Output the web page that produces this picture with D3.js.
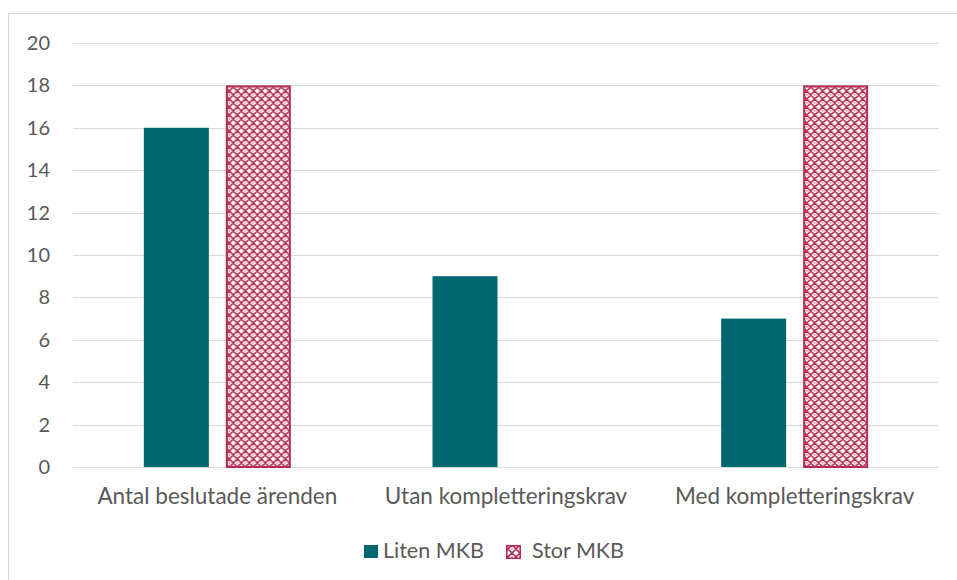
<!DOCTYPE html>
<html lang="sv">
<head>
    <meta charset="UTF-8">
    <script src="https://d3js.org/d3.v7.min.js"></script>
    <style>
        body { margin: 0; background: #fff; }
        text { font-family: Lato, "Open Sans", sans-serif; fill: #595959; }
    </style>
</head>
<body>
    <div id="chart"></div>

    <script>
        // data
        var categories = ["Antal beslutade ärenden", "Utan kompletteringskrav", "Med kompletteringskrav"];
        var seriesNames = ["Liten MKB", "Stor MKB"];
        var liten = [16, 9, 7];
        var stor = [18, 0, 18];
        var yTicks = [0, 2, 4, 6, 8, 10, 12, 14, 16, 18, 20];

        var W = 957, H = 580;
        var margin = { top: 43, right: 18, bottom: 113, left: 73 },
            width = W - margin.left - margin.right,
            height = H - margin.top - margin.bottom;

        var teal = "#006670", crimson = "#b42b52";

        var root = d3.select("#chart").append("svg")
            .attr("width", W)
            .attr("height", H);

        var defs = root.append("defs");
        var pat = defs.append("pattern")
            .attr("id", "dots")
            .attr("patternUnits", "userSpaceOnUse")
            .attr("width", 8)
            .attr("height", 8);
        pat.append("rect").attr("width", 8).attr("height", 8).attr("fill", "#fff");
        pat.append("path")
            .attr("d", "M0,4 L4,0 L8,4 L4,8 Z")
            .attr("fill", "none")
            .attr("stroke", crimson)
            .attr("stroke-width", 1.6);
        pat.append("rect").attr("x", 3).attr("y", 3).attr("width", 2).attr("height", 2).attr("fill", "#eab4c3");

        // outer chart border
        root.append("rect")
            .attr("x", 8.5).attr("y", 13.5)
            .attr("width", 1000).attr("height", 1000)
            .attr("fill", "none")
            .attr("stroke", "#d9d9d9");

        var svg = root.append("g")
            .attr("transform", "translate(" + margin.left + "," + margin.top + ")");

        var x0 = d3.scaleBand().domain(categories).range([0, width]);
        var y = d3.scaleLinear().domain([0, 20]).range([height, 0]);

        // gridlines
        svg.selectAll(".grid")
            .data(yTicks)
            .enter().append("line")
            .attr("x1", 0).attr("x2", width)
            .attr("y1", function (d) { return Math.round(y(d)) + 0.5; })
            .attr("y2", function (d) { return Math.round(y(d)) + 0.5; })
            .attr("stroke", "#d9d9d9")
            .attr("stroke-width", 1);

        // y tick labels
        svg.selectAll(".ylab")
            .data(yTicks)
            .enter().append("text")
            .attr("x", -23)
            .attr("y", function (d) { return y(d); })
            .attr("dy", "0.35em")
            .attr("text-anchor", "end")
            .style("font-size", "20px")
            .text(function (d) { return d; });

        var barW = 65, gap = 17;
        var x1 = d3.scaleOrdinal().domain(seriesNames)
            .range([-gap / 2 - barW, gap / 2]);

        var rows = categories.map(function (c, i) {
            return [
                { cat: c, s: "Liten MKB", v: liten[i] },
                { cat: c, s: "Stor MKB", v: stor[i] }
            ];
        });

        var groups = svg.selectAll(".grp")
            .data(rows)
            .enter().append("g")
            .attr("transform", function (d) {
                return "translate(" + (x0(d[0].cat) + x0.bandwidth() / 2) + ",0)";
            });

        groups.selectAll("rect")
            .data(function (d) { return d.filter(function (e) { return e.v > 0; }); })
            .enter().append("rect")
            .attr("x", function (d) { return x1(d.s) + (d.s === "Stor MKB" ? 1 : 0); })
            .attr("y", function (d) { return y(d.v) + (d.s === "Stor MKB" ? 1 : 0); })
            .attr("width", function (d) { return d.s === "Stor MKB" ? barW - 2 : barW; })
            .attr("height", function (d) { return height - y(d.v) - (d.s === "Stor MKB" ? 1 : 0); })
            .attr("fill", function (d) { return d.s === "Liten MKB" ? teal : "url(#dots)"; })
            .attr("stroke", function (d) { return d.s === "Liten MKB" ? "none" : crimson; })
            .attr("stroke-width", 2);

        // x axis labels
        svg.selectAll(".xlab")
            .data(categories)
            .enter().append("text")
            .attr("x", function (d) { return x0(d) + x0.bandwidth() / 2; })
            .attr("y", height + 37)
            .attr("text-anchor", "middle")
            .style("font-size", "22.5px")
            .text(function (d) { return d; });

        // legend
        var legend = root.append("g").attr("transform", "translate(364,545)");
        legend.append("rect")
            .attr("x", 0).attr("y", 0).attr("width", 14).attr("height", 13)
            .attr("fill", teal);
        legend.append("text")
            .attr("x", 19).attr("y", 12.5)
            .style("font-size", "21.5px")
            .text(seriesNames[0]);
        legend.append("rect")
            .attr("x", 142.75).attr("y", 0.75).attr("width", 13.5).attr("height", 12.5)
            .attr("fill", "url(#dots)")
            .attr("stroke", crimson)
            .attr("stroke-width", 1.5);
        legend.append("text")
            .attr("x", 168).attr("y", 12.5)
            .style("font-size", "21.5px")
            .text(seriesNames[1]);
    </script>
</body>
</html>
